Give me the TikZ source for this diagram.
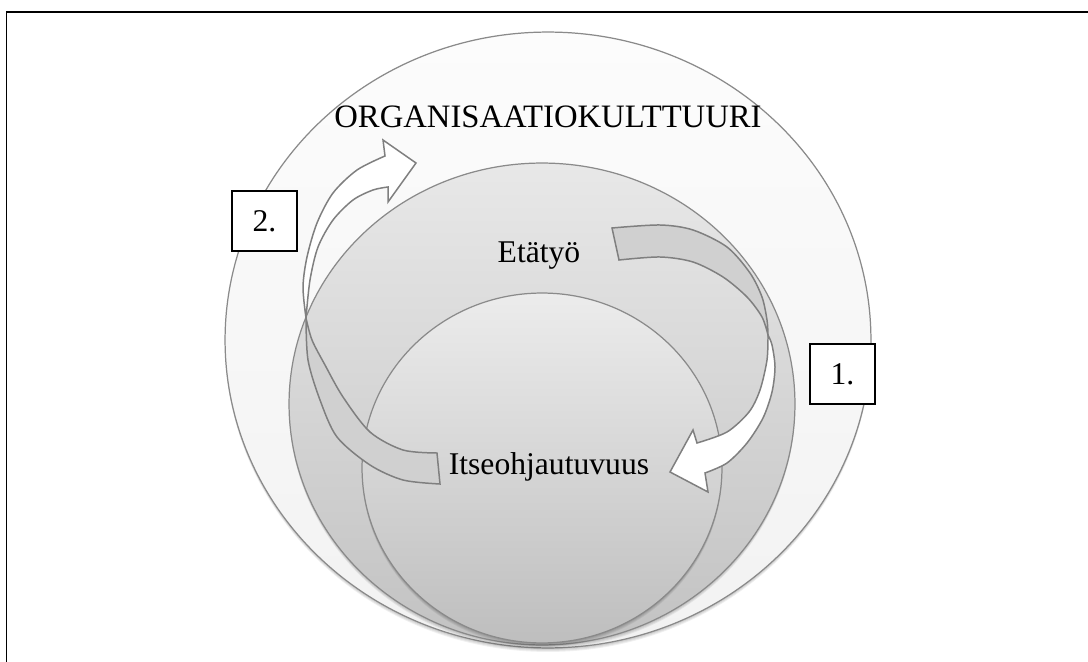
\documentclass[tikz,border=0pt]{standalone}
\usepackage{fontspec}
\setmainfont{Liberation Serif}
\definecolor{ringline}{HTML}{8A8A8A}
\definecolor{arrline}{HTML}{7F7F7F}
\definecolor{tailfill}{HTML}{D0D0D0}
\definecolor{outtop}{HTML}{FCFCFC}
\definecolor{outbot}{HTML}{F2F2F2}
\definecolor{midtop}{HTML}{E8E8E8}
\definecolor{midbot}{HTML}{C2C2C2}
\definecolor{intop}{HTML}{ECECEC}
\definecolor{inbot}{HTML}{BEBEBE}
\begin{document}
\begin{tikzpicture}[x=0.02cm,y=-0.02cm,
  ring/.style={draw=ringline, line width=0.7pt},
  ringshadow/.style={fill=black, opacity=0.06},
  arrowline/.style={draw=arrline, line width=0.85pt, line join=miter},
  lbl/.style={font=\fontsize{18}{21}\selectfont, inner sep=0pt},
  numbox/.style={draw=black, line width=0.6pt, fill=white, minimum width=1.3cm, minimum height=1.2cm, inner sep=0pt, font=\fontsize{18}{21}\selectfont}]
\useasboundingbox (0,0) rectangle (1088,662);
\fill[white] (0,0) rectangle (1088,662);
% frame
\draw[line width=1.1pt] (6.5,662) -- (6.5,12) -- (1088,12);
% outer ring
\foreach \s in {1,2,3,4}{\fill[ringshadow] (548,340+\s) ellipse [x radius=6.46cm, y radius=6.16cm];}
\draw[ring, top color=outtop, bottom color=outbot] (548,340) ellipse [x radius=6.46cm, y radius=6.16cm];
% middle ring
\foreach \s in {1,2,3,4}{\fill[ringshadow] (542,404+\s) ellipse [x radius=5.06cm, y radius=4.82cm];}
\draw[ring, top color=midtop, bottom color=midbot] (542,404) ellipse [x radius=5.06cm, y radius=4.82cm];
% inner ring
\foreach \s in {1,2,3,4}{\fill[ringshadow] (542,468+\s) ellipse [x radius=3.6cm, y radius=3.5cm];}
\draw[ring, top color=intop, bottom color=inbot] (542,468) ellipse [x radius=3.6cm, y radius=3.5cm];
% arrow 2 (left), tail part
\path[arrowline, fill=tailfill] (437,453) -- plot[smooth] coordinates {(440,484) (403,480) (370,465) (337,437) (320,400) (308,360) (306,318)} -- plot[smooth] coordinates {(306,318) (312,340) (325,365) (343,397) (370,432) (403,450) (437,453)} -- cycle;
% arrow 2, head part
\path[arrowline, fill=white] plot[smooth] coordinates {(306,318) (303,287) (307,257) (317,223) (333,193) (357,170) (385,156)} -- (383,140) -- (416,163) -- (388,202) -- plot[smooth] coordinates {(388,187) (373,190) (353,200) (333,220) (318,247) (310,280) (306,318)} -- cycle;
% arrow 1 (right), tail part
\path[arrowline, fill=tailfill] (619,260) -- plot[smooth] coordinates {(612,228) (660,225) (693,230) (727,247) (750,273) (762,297) (767,320) (768,335)} -- plot[smooth] coordinates {(768,335) (762,317) (747,297) (723,277) (693,262) (660,257) (619,260)} -- cycle;
% arrow 1, head part
\path[arrowline, fill=white] plot[smooth] coordinates {(768,335) (767,360) (760,390) (749,412) (727,432) (697,443)} -- (693,430) -- (670,472) -- (708,492) -- plot[smooth] coordinates {(705,473) (727,463) (747,443) (763,418) (772,392) (775,367) (772,345) (768,335)} -- cycle;
% labels
\node[lbl, font=\fontsize{18.6}{22}\selectfont] (org) at (548,117) {ORGANISAATIOKULTTUURI};
\node[lbl, anchor=base] (eta) at (539,262) {Etätyö};
\node[lbl, anchor=base] (itse) at (549,474) {Itseohjautuvuus};
\node[numbox] (b2) at (264.5,221) {2.};
\node[numbox] (b1) at (842.5,374) {1.};
\end{tikzpicture}
\end{document}
